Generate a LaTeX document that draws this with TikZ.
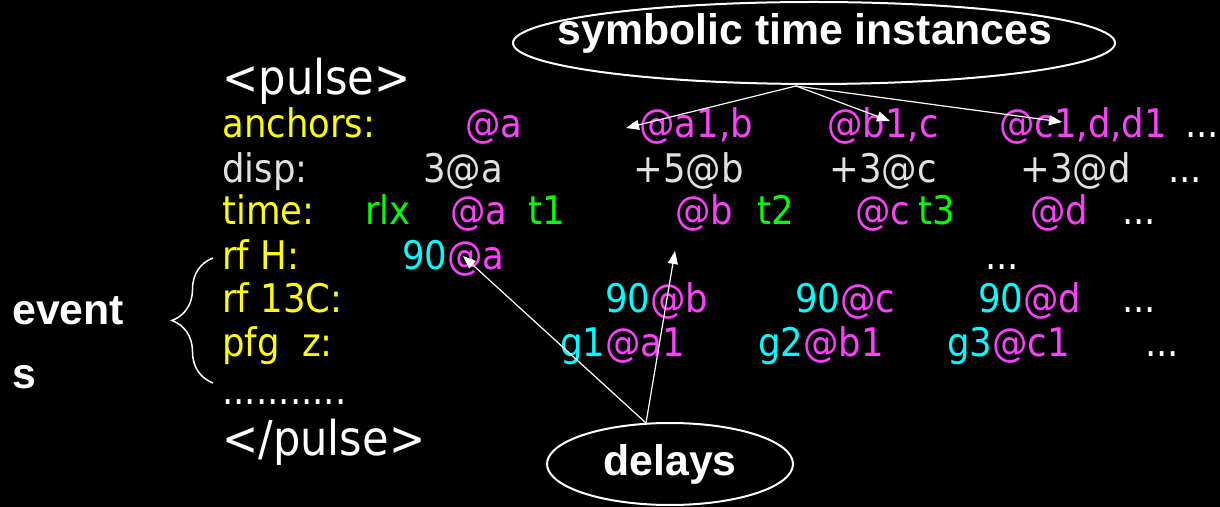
\documentclass[tikz,border=0pt]{standalone}
\usepackage{fontspec}
\setmainfont{DejaVu Sans Condensed}
\newfontfamily\calloutfont{Liberation Sans}
\usetikzlibrary{shapes.geometric,decorations.pathreplacing,arrows.meta}

\definecolor{tagyellow}{RGB}{255,255,0}
\definecolor{sympink}{RGB}{255,64,255}
\definecolor{relgreen}{RGB}{0,255,0}
\definecolor{valcyan}{RGB}{0,255,255}
\definecolor{dispgrey}{RGB}{225,225,225}

\newcommand{\pk}[1]{\textcolor{sympink}{#1}}
\newcommand{\cy}[1]{\textcolor{valcyan}{#1}}

\begin{document}
\begin{tikzpicture}[x=0.5pt,y=-0.5pt,
    every node/.style={inner sep=0pt,anchor=base west,font=\fontsize{19.7}{22}\selectfont},
    tag/.style={text=tagyellow},
    sym/.style={text=sympink},
    rel/.style={text=relgreen},
    plain/.style={text=white},
    callout/.style={ellipse,draw=white,line width=1pt,anchor=center,
      font=\calloutfont\bfseries\fontsize{21.4}{24}\selectfont,text=white},
    pointer/.style={draw=white,line width=0.6pt,-{Triangle[length=6.5pt,width=5pt]}}]

  \fill[black] (0,0) rectangle (1220,507);

  % pulse block
  \node[plain,font=\fontsize{24}{28}\selectfont] (open) at (222,95) {<pulse>};

  \node[tag] (anchors) at (222,138) {anchors:};
  \node[sym] (anc1) at (465,138) {@a};
  \node[sym] (anc2) at (639,138) {@a1,b};
  \node[sym] (anc3) at (827,138) {@b1,c};
  \node[sym] (anc4) at (999,138) {@c1,d,d1};
  \node[plain] (anc5) at (1185,138) {...};

  \node[text=dispgrey] (disp) at (222,183) {disp:};
  \node[text=dispgrey] (disp1) at (423,183) {3@a};
  \node[text=dispgrey] (disp2) at (633,183) {+5@b};
  \node[text=dispgrey] (disp3) at (829,183) {+3@c};
  \node[text=dispgrey] (disp4) at (1020,183) {+3@d};
  \node[plain] (disp5) at (1168,183) {...};

  \node[tag] (time) at (222,225) {time:};
  \node[rel] (rlx) at (365,225) {rlx};
  \node[sym] (ta) at (450,225) {@a};
  \node[rel] (t1) at (528,225) {t1};
  \node[sym] (tb) at (675,225) {@b};
  \node[rel] (t2) at (757,225) {t2};
  \node[sym] (tc) at (855,225) {@c};
  \node[rel] (t3) at (918,225) {t3};
  \node[sym] (td) at (1030,225) {@d};
  \node[plain] (time5) at (1122,225) {...};

  \node[tag] (rfh) at (222,270) {rf H:};
  \node (rfh1) at (402,270) {\cy{90}\pk{@a}};
  \node[plain] (rfh5) at (985,270) {...};

  \node[tag] (rfc) at (222,313) {rf 13C:};
  \node (rfc1) at (605,313) {\cy{90}\pk{@b}};
  \node (rfc2) at (795,313) {\cy{90}\pk{@c}};
  \node (rfc3) at (978,313) {\cy{90}\pk{@d}};
  \node[plain] (rfc5) at (1122,313) {...};

  \node[tag] (pfg) at (222,357) {pfg\ \ z:};
  \node (pfg1) at (560,357) {\cy{g1}\pk{@a1}};
  \node (pfg2) at (758,357) {\cy{g2}\pk{@b1}};
  \node (pfg3) at (947,357) {\cy{g3}\pk{@c1}};
  \node[plain] (pfg5) at (1145,357) {...};

  \node[plain] (more) at (222,405) {...........};
  \node[plain,font=\fontsize{24}{28}\selectfont] (close) at (222,455) {</pulse>};

  % events brace
  \draw[white,line width=0.75pt,decorate,decoration={brace,amplitude=20.5pt}]
    (213,383) -- (213,258);
  \node[plain,font=\calloutfont\bfseries\fontsize{21.4}{24}\selectfont] (events) at (12,325) {event};
  \node[plain,font=\calloutfont\bfseries\fontsize{21.4}{24}\selectfont] (eventss) at (12,388) {s};

  % callouts
  \node[callout,minimum width=301pt,minimum height=41pt] (symbolic) at (814,43) {};
  \node[plain,anchor=center,font=\calloutfont\bfseries\fontsize{21.4}{24}\selectfont]
    (symtext) at (805,33) {symbolic time instances};
  \node[callout,minimum width=123pt,minimum height=41pt] (delays) at (670,464) {delays};

  \coordinate (symfoot) at (796,86);
  \coordinate (hit1) at (626,128);
  \coordinate (hit2) at (890,121);
  \coordinate (hit3) at (1062,122);
  \draw[pointer] (symfoot) -- (hit1);
  \draw[pointer] (symfoot) -- (hit2);
  \draw[pointer] (symfoot) -- (hit3);

  \coordinate (delfoot) at (646,423);
  \coordinate (hit4) at (463,256);
  \coordinate (hit5) at (675,251);
  \draw[pointer] (delfoot) -- (hit4);
  \draw[pointer] (delfoot) -- (hit5);

\end{tikzpicture}
\end{document}
